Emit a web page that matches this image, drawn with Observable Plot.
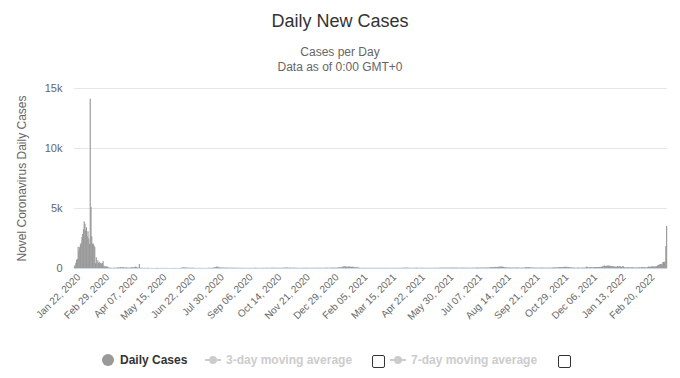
<!DOCTYPE html>
<html><head><meta charset="utf-8">
<script src="https://cdn.jsdelivr.net/npm/d3@7"></script>
<script src="https://cdn.jsdelivr.net/npm/@observablehq/plot@0.6"></script>
<style>
body{margin:0;background:#fff;font-family:"Liberation Sans",Arial,sans-serif;}
#wrap{position:relative;width:680px;height:378px;overflow:hidden;background:#fff;}
#chart{position:absolute;left:0;top:0;}
#title{position:absolute;left:0;top:11px;width:680px;text-align:center;font-size:18px;color:#333;}
#sub{position:absolute;left:0;top:45px;width:680px;text-align:center;font-size:12px;color:#666;line-height:15px;}
.lg{position:absolute;font-size:12px;white-space:nowrap;line-height:14px;}
.box{position:absolute;width:11px;height:11px;border:1px solid #333;border-radius:2px;background:#fff;}
</style></head><body>
<div id="wrap">
  <div id="chart"></div>
  <div id="title"></div>
  <div id="sub"></div>
  <div id="legend"></div>
</div>
<script>
// ---- texts ----
const chartTitle = "Daily New Cases";
const subtitleLines = ["Cases per Day", "Data as of 0:00 GMT+0"];
const yTitle = "Novel Coronavirus Daily Cases";
const legendLabels = ["Daily Cases", "3-day moving average", "7-day moving average"];
const yTickValues = [0, 5000, 10000, 15000];
const yTickLabels = ["0", "5k", "10k", "15k"];
const xTickLabels = ["Jan 22, 2020","Feb 29, 2020","Apr 07, 2020","May 15, 2020","Jun 22, 2020","Jul 30, 2020",
  "Sep 06, 2020","Oct 14, 2020","Nov 21, 2020","Dec 29, 2020","Feb 05, 2021","Mar 15, 2021","Apr 22, 2021",
  "May 30, 2021","Jul 07, 2021","Aug 14, 2021","Sep 21, 2021","Oct 29, 2021","Dec 06, 2021","Jan 13, 2022","Feb 20, 2022"];

// ---- daily new cases, one array per month (2020 starts on Jan 22) ----
const cases2020 = [
  [131,259,444,688,769,1771,1459,1737,1982,2102],
  [2590,2829,3235,3887,3694,3143,3399,2656,3062,2478,2015,14108,5090,2641,2009,2048,1886,1749,394,889,397,648,409,508,406,433,327,427,573],
  [202,125,119,139,143,99,44,40,19,24,15,8,11,20,16,21,13,34,39,41,46,39,78,47,67,55,54,45,31,48,36],
  [35,31,19,30,39,32,62,63,42,46,99,108,89,46,26,26,325,16,12,11,30,10,6,12,11,3,6,22,4,12],
  [1,2,1,3,2,1,2,1,14,17,1,7,3,4,6,8,7,5,6,5,4,3,3,11,7,1,1,2,4,2,2],
  [5,1,6,7,6,3,6,3,3,11,12,18,57,49,40,44,28,31,32,26,22,13,22,11,18,21,18,12,19,3],
  [3,5,4,8,7,8,8,11,5,7,8,4,3,6,6,5,16,22,17,12,11,14,22,34,46,61,68,101,105,127,45],
  [43,49,36,27,35,37,23,26,23,44,19,25,22,22,17,22,13,28,22,7,26,16,12,19,15,9,9,22,9,10,7],
  [14,10,7,10,7,9,6,10,8,6,13,12,8,10,9,12,14,32,10,11,10,10,9,10,11,8,14,21,10,7],
  [20,17,15,14,11,15,18,18,13,21,25,20,21,13,19,13,13,18,13,21,17,11,22,24,20,42,28,22,47,33,34],
  [24,24,26,14,13,17,33,33,17,15,17,15,12,13,9,11,10,7,16,17,17,15,11,22,17,18,10,10,11,14],
  [15,9,20,16,11,12,18,14,16,21,16,15,18,12,20,9,10,11,21,27,25,22,10,21,14,23,27,24,33,30,24]
];
const cases2021 = [
  [33,17,24,33,32,63,53,52,33,103,82,115,138,144,130,109,118,93,103,144,88,103,107,79,124,75,55,54,36,92,33],
  [42,25,16,12,10,16,12,14,17,14,14,12,8,5,10,11,11,10,9,7,8,10,9,11,11,10,9,8],
  [10,11,10,9,12,10,11,13,14,10,6,14,12,10,5,11,9,10,11,10,12,9,6,15,10,11,13,12,11,15,13],
  [20,18,29,28,24,25,26,21,16,21,15,11,13,14,12,13,16,24,25,22,11,12,14,13,16,16,19,14,16,14],
  [13,12,11,13,14,13,11,13,12,15,15,12,19,16,17,13,11,19,20,23,22,24,28,24,24,29,26,20,21,21,24],
  [23,20,27,30,27,26,23,25,30,30,21,27,16,19,19,22,27,22,29,23,26,19,20,23,21,23,14,21,23,16],
  [20,23,20,21,26,23,29,34,41,29,28,27,32,29,31,33,27,28,31,27,42,31,32,40,76,44,86,55,71,64,85],
  [98,61,71,85,80,124,96,94,143,108,111,80,70,74,53,42,41,31,33,31,51,20,25,34,30,26,26,28,38,45,34],
  [21,30,17,28,32,24,22,28,42,50,77,64,59,80,70,34,52,28,40,31,25,29,33,18,27,23,32,18,23,32],
  [34,22,31,19,27,21,22,19,25,23,23,20,32,24,27,41,39,45,48,43,45,48,56,59,82,69,84,63,85,59,97],
  [87,93,109,90,74,78,62,40,62,40,36,30,33,31,19,22,20,28,36,24,22,21,23,30,38,23,29,41,41,113],
  [91,25,61,54,65,80,57,43,69,74,68,76,86,71,80,74,88,101,86,102,138,140,198,206,158,160,209,181,209,175,191]
];
const cases2022 = [
  [175,150,158,157,123,110,112,106,101,166,110,124,165,123,119,65,163,127,60,43,63,38,69,63,45,35,55,50,54,62,33],
  [43,25,42,38,33,45,56,45,52,40,67,70,67,59,72,43,37,63,78,121,94,98,131,94,137,155,110,118],
  [119,135,175,206,245,290,300,330,300,350,480,520,470,560,1830,3500]
];

// ---- build rows ----
const rows = [];
function addYear(year, months, firstDay) {
  months.forEach((vals, m) => {
    const d0 = (m === 0 && firstDay) ? firstDay : 1;
    vals.forEach((v, i) => {
      const date = new Date(Date.UTC(year, m, d0 + i));
      const next = new Date(Date.UTC(year, m, d0 + i + 1));
      rows.push({date, next, cases: v});
    });
  });
}
addYear(2020, cases2020, 22);
addYear(2021, cases2021);
addYear(2022, cases2022);

const parseTick = d3.utcParse("%b %d, %Y");
const xTicks = xTickLabels.map(s => new Date(+parseTick(s) + 12 * 3600e3));
const fmtTick = d3.utcFormat("%b %d, %Y");
const xStart = rows[0].date, xEnd = rows[rows.length - 1].next;

const font = "'Liberation Sans', Arial, sans-serif";
const chart = Plot.plot({
  width: 680, height: 378,
  marginTop: 88, marginBottom: 110, marginLeft: 74, marginRight: 13,
  style: {fontFamily: font, background: "transparent", overflow: "visible"},
  x: {type: "utc", domain: [xStart, xEnd]},
  y: {domain: [0, 15000]},
  marks: [
    Plot.gridY(yTickValues.slice(1), {stroke: "#e6e6e6", strokeOpacity: 1}),
    Plot.rectY(rows, {x1: "date", x2: "next", y: "cases", fill: "#999", insetLeft: -0.2, insetRight: -0.2}),
    Plot.ruleY([0], {stroke: "#ccd6eb"}),
    Plot.axisY({ticks: yTickValues, tickSize: 0, tickPadding: 12, fontSize: 11, fill: "#666",
      tickFormat: d => yTickLabels[yTickValues.indexOf(d)], label: null}),
    Plot.axisX({ticks: xTicks, tickSize: 0, tickPadding: 7, tickRotate: -45, fontSize: 10, fill: "#666",
      dx: 4, tickFormat: d => fmtTick(d), label: null}),
    Plot.text([yTitle], {text: d => d, frameAnchor: "left", textAnchor: "middle", rotate: -90, dx: -52,
      fontSize: 12, fill: "#666"})
  ]
});
document.getElementById("chart").appendChild(chart);

document.getElementById("title").textContent = chartTitle;
document.getElementById("sub").innerHTML = subtitleLines.map(s => s.replace(/&/g,"&amp;")).join("<br>");

// ---- legend ----
const lg = document.getElementById("legend");
lg.innerHTML = `
  <svg style="position:absolute;left:0;top:0" width="680" height="378">
    <circle cx="108" cy="360" r="6" fill="#999"/>
    <line x1="205" x2="221" y1="360" y2="360" stroke="#ccc" stroke-width="2"/>
    <circle cx="213" cy="360" r="4" fill="#ccc"/>
    <line x1="390" x2="406" y1="360" y2="360" stroke="#ccc" stroke-width="2"/>
    <circle cx="398" cy="360" r="4" fill="#ccc"/>
  </svg>
  <div class="lg" style="left:120px;top:353px;color:#333;font-weight:bold">${legendLabels[0]}</div>
  <div class="lg" style="left:226px;top:353px;color:#ccc;font-weight:bold">${legendLabels[1]}</div>
  <div class="box" style="left:372px;top:355px"></div>
  <div class="lg" style="left:411px;top:353px;color:#ccc;font-weight:bold">${legendLabels[2]}</div>
  <div class="box" style="left:558px;top:355px"></div>`;
</script>
</body></html>
